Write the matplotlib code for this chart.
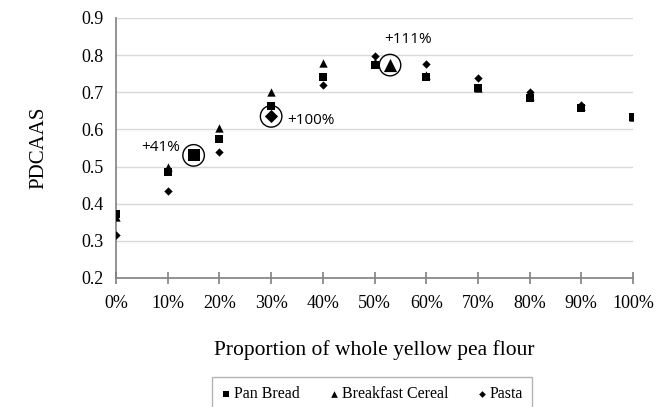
import matplotlib
matplotlib.use("Agg")
import matplotlib.pyplot as plt
from matplotlib.ticker import PercentFormatter

proportion = [0.0, 0.1, 0.2, 0.3, 0.4, 0.5, 0.6, 0.7, 0.8, 0.9, 1.0]
pan_bread = [0.373, 0.484, 0.575, 0.663, 0.742, 0.773, 0.740, 0.710, 0.684, 0.657, 0.632]
breakfast_cereal = [0.363, 0.499, 0.605, 0.700, 0.779, 0.780, 0.745, 0.712, 0.690, 0.664, 0.632]
pasta = [0.316, 0.434, 0.540, 0.635, 0.719, 0.797, 0.776, 0.737, 0.700, 0.666, 0.632]

highlight_x = [0.15, 0.30, 0.53]
highlight_y = [0.530, 0.635, 0.773]
highlight_marker = ["s", "D", "^"]
highlight_label = ["+41%", "+100%", "+111%"]

serif = "Liberation Serif"

fig = plt.figure(figsize=(6.67, 4.07), dpi=100)
ax = fig.add_axes([0.174, 0.317, 0.775, 0.639])

ax.scatter(proportion, pan_bread, marker="s", s=28, color="black", zorder=3, label="Pan Bread", linewidths=0)
ax.scatter(proportion, breakfast_cereal, marker="^", s=36, color="black", zorder=3, label="Breakfast Cereal", linewidths=0)
ax.scatter(proportion, pasta, marker="D", s=18, color="black", zorder=3, label="Pasta", linewidths=0)

sizes = {"s": 70, "D": 45, "^": 90}
for hx, hy, hm in zip(highlight_x, highlight_y, highlight_marker):
    ax.scatter([hx], [hy], marker=hm, s=sizes[hm], color="black", zorder=4, linewidths=0)
    ax.scatter([hx], [hy], marker="o", s=240, facecolors="none", edgecolors="black", linewidths=1.0, zorder=4)

ann_offsets = [(-0.026, 0.022, "right"), (0.032, -0.01, "left"), (0.035, 0.068, "center")]
for hx, hy, lab, (dx, dy, ha) in zip(highlight_x, highlight_y, highlight_label, ann_offsets):
    ax.text(hx + dx, hy + dy, lab, ha=ha, va="center", fontsize=11, family="Open Sans")

ax.set_xlim(0, 1.0)
ax.set_ylim(0.2, 0.9)
ax.set_xticks(proportion)
ax.xaxis.set_major_formatter(PercentFormatter(1.0, decimals=0))
ax.set_yticks([0.2, 0.3, 0.4, 0.5, 0.6, 0.7, 0.8, 0.9])
ax.set_yticklabels([f"{v:.1f}" for v in [0.2, 0.3, 0.4, 0.5, 0.6, 0.7, 0.8, 0.9]])
ax.grid(axis="y", color="#d9d9d9", linewidth=1.0, zorder=0)
ax.set_axisbelow(True)

for s in ["top", "right"]:
    ax.spines[s].set_visible(False)
for s in ["left", "bottom"]:
    ax.spines[s].set_color("#808080")
    ax.spines[s].set_linewidth(1.2)

ax.tick_params(axis="x", direction="inout", length=9, width=1.2, color="#808080", labelsize=13, pad=8)
ax.tick_params(axis="y", length=0, labelsize=13, pad=9)
for lbl in ax.get_xticklabels() + ax.get_yticklabels():
    lbl.set_family(serif)

ax.set_xlabel("Proportion of whole yellow pea flour", family=serif, fontsize=15.5, labelpad=20)
ax.set_ylabel("PDCAAS", family=serif, fontsize=15, labelpad=24)

leg = fig.legend(loc="lower center", bbox_to_anchor=(0.558, -0.032), ncol=3, frameon=True,
                 prop={"family": serif, "size": 11.5}, handletextpad=0.2, columnspacing=1.8,
                 handlelength=0.6, markerscale=0.8, borderpad=0.6, fancybox=False)
leg.get_frame().set_edgecolor("#a0a0a0")
leg.get_frame().set_linewidth(1.0)

fig.savefig("out.png", dpi=100)
